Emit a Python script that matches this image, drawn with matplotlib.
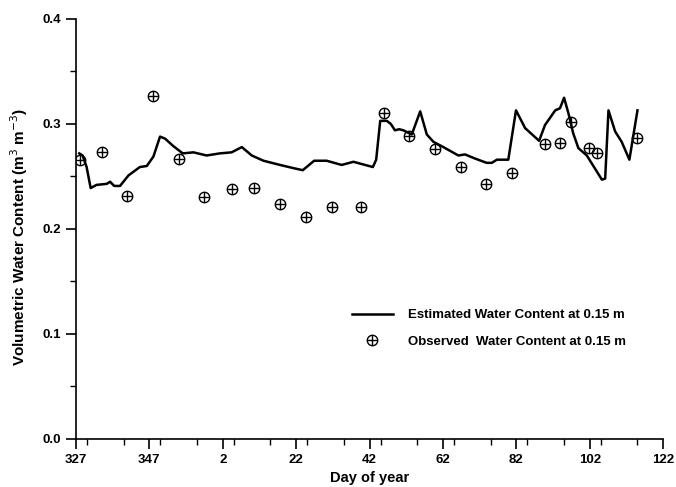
import numpy as np
import matplotlib
matplotlib.use("Agg")
import matplotlib.pyplot as plt
from matplotlib.ticker import MultipleLocator

plt.rcParams['font.family'] = ['Liberation Sans', 'DejaVu Sans']

# Estimated water content (day of year, value)
est_day = [327.9, 328.8, 329.9, 331.0, 332.6, 335.4, 336.3, 337.4, 339.0, 341.3,
           344.4, 346.3, 348.1, 349.9, 351.3, 353.5, 356.1, 359.0, 362.6, 1.2,
           4.4, 7.2, 9.9, 13.1, 17.6, 21.2, 23.8, 26.9, 30.3, 34.4,
           37.6, 42.9, 43.8, 44.9, 46.7, 47.8, 48.9, 50.1, 51.2, 53.5,
           55.8, 57.6, 59.4, 62.1, 66.2, 68.0, 70.8, 73.9, 75.3, 76.7,
           79.8, 81.9, 84.4, 88.2, 89.8, 92.6, 93.9, 95.0, 96.2, 97.5,
           98.9, 101.2, 105.3, 106.2, 107.1, 108.9, 110.7, 112.8, 115.0]
est_val = [0.272, 0.270, 0.259, 0.239, 0.242, 0.243, 0.245, 0.241, 0.241, 0.251,
           0.259, 0.260, 0.269, 0.288, 0.286, 0.279, 0.272, 0.273, 0.270, 0.272,
           0.273, 0.278, 0.270, 0.265, 0.261, 0.258, 0.256, 0.265, 0.265, 0.261,
           0.264, 0.259, 0.266, 0.303, 0.303, 0.300, 0.294, 0.295, 0.294, 0.290,
           0.312, 0.290, 0.283, 0.278, 0.270, 0.271, 0.267, 0.263, 0.263, 0.266,
           0.266, 0.313, 0.296, 0.284, 0.299, 0.313, 0.315, 0.325, 0.310, 0.291,
           0.277, 0.270, 0.247, 0.248, 0.313, 0.293, 0.283, 0.266, 0.313]

# Observed water content
obs_day = [328, 334, 341, 348, 355, 362, 4.5, 10.5, 17.6, 24.7, 31.8, 39.8,
           45.9, 52.7, 59.8, 66.9, 73.8, 80.9, 89.8, 93.8, 96.8, 101.7, 103.9, 114.8]
obs_val = [0.266, 0.273, 0.231, 0.327, 0.267, 0.230, 0.238, 0.239, 0.224, 0.211, 0.221, 0.221,
           0.310, 0.289, 0.276, 0.259, 0.243, 0.253, 0.281, 0.282, 0.302, 0.277, 0.272, 0.287]

xtick_labels = ["327", "347", "2", "22", "42", "62", "82", "102", "122"]
ytick_values = [0.0, 0.1, 0.2, 0.3, 0.4]


def cont(d):
    d = np.asarray(d, dtype=float)
    return np.where(d < 200, d + 365, d)


fig = plt.figure(figsize=(6.76, 4.87), dpi=100)
ax = fig.add_axes([0.1124, 0.0986, 0.981 - 0.1124, 0.961 - 0.0986])

line, = ax.plot(cont(est_day), est_val, color='black', lw=1.8)
circ, = ax.plot(cont(obs_day), obs_val, linestyle='none', marker='o', ms=7.5,
                mfc='none', mec='black', mew=1.0)
plus, = ax.plot(cont(obs_day), obs_val, linestyle='none', marker='+', ms=7.5,
                color='black', mew=1.0)

xt = cont([int(s) for s in xtick_labels])
ax.set_xlim(xt[0], xt[-1])
ax.set_ylim(0, 0.4)
ax.set_xticks(xt)
ax.set_xticklabels(xtick_labels)
ax.set_yticks(ytick_values)
ax.set_yticklabels([f"{v:.1f}" for v in ytick_values])
ax.xaxis.set_minor_locator(MultipleLocator(10))
ax.yaxis.set_minor_locator(MultipleLocator(0.05))

for s in ['top', 'right']:
    ax.spines[s].set_visible(False)
for s in ['left', 'bottom']:
    ax.spines[s].set_linewidth(1.2)

ax.tick_params(which='major', direction='out', length=7, width=1.2, labelsize=9.5)
ax.tick_params(which='minor', direction='out', length=4, width=1.0)
for lab in ax.get_xticklabels() + ax.get_yticklabels():
    lab.set_fontweight('bold')

ax.set_xlabel('Day of year', fontsize=10.5, fontweight='bold', labelpad=4)
ax.set_ylabel(r'Volumetric Water Content (m$^{3}$ m$^{-3}$)', fontsize=11,
              fontweight='bold')
ax.yaxis.set_label_coords(-0.078, 0.48)

leg = ax.legend(handles=[line, (circ, plus)],
                labels=['Estimated Water Content at 0.15 m',
                        'Observed  Water Content at 0.15 m'],
                loc='upper left', bbox_to_anchor=(0.470, 0.309), frameon=False,
                borderpad=0, borderaxespad=0,
                prop={'size': 9.5, 'weight': 'bold'}, handlelength=3.1,
                labelspacing=1.08, handletextpad=1.15)

fig.savefig('out.png', dpi=100)
